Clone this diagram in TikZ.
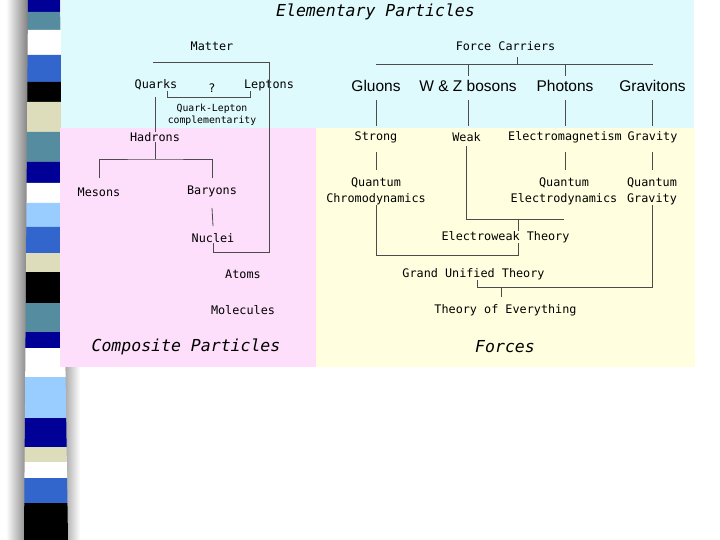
\documentclass[tikz,border=0pt]{standalone}
\usepackage{fontspec}
\setmainfont{Liberation Sans}
\newfontfamily\gothic[ItalicFont={DejaVu Sans Mono Oblique}]{DejaVu Sans Mono}
\definecolor{panelcyan}{RGB}{222,250,252}
\definecolor{panelpink}{RGB}{253,223,252}
\definecolor{panelyellow}{RGB}{255,255,224}
\definecolor{stripenavy}{RGB}{0,0,150}
\definecolor{stripeteal}{RGB}{85,140,160}
\definecolor{stripeblue}{RGB}{51,102,204}
\definecolor{stripebeige}{RGB}{221,221,187}
\definecolor{stripesky}{RGB}{153,204,255}
\begin{document}
\begin{tikzpicture}[x=1pt,y=-1pt,
    lbl/.style={font=\gothic\fontsize{11.8}{16}\selectfont, inner sep=0pt, align=center},
    small/.style={font=\gothic\fontsize{9.8}{12}\selectfont, inner sep=0pt, align=center},
    carrier/.style={font=\fontsize{15.5}{18}\selectfont, inner sep=0pt},
    heading/.style={font=\gothic\itshape\fontsize{16.5}{20}\selectfont, inner sep=0pt},
    conn/.style={draw=black!70, line width=0.8pt}]
        \useasboundingbox (0,0) rectangle (720,540);
        % striped bar on the left
        \shade[left color=white, right color=black!50] (6,0) rectangle (28,540);
        \shade[left color=black!40, right color=white] (62,367) rectangle (80,540);
        \foreach \ya/\yb/\c in {0/12/stripenavy, 12/30/stripeteal, 30/55/white, 55/82/stripeblue,
                82/102/black, 102/132/stripebeige, 132/162/stripeteal, 162/183/stripenavy,
                183/203/white, 203/227/stripesky, 227/253/stripeblue, 253/272/stripebeige,
                272/303/black, 303/332/stripeteal, 332/348/stripenavy, 348/377/white,
                377/418/stripesky, 418/447/stripenavy, 447/462/stripebeige, 462/478/white,
                478/503/stripeblue, 503/540/black}
            \fill[\c] ({28-4*\ya/540},\ya) -- ({60+8*\ya/540},\ya) -- ({60+8*\yb/540},\yb) -- ({28-4*\yb/540},\yb) -- cycle;
        % panels
        \fill[panelcyan] (61,0) rectangle (694,128);
        \fill[panelpink] (60,128) rectangle (316,367);
        \fill[panelyellow] (316,128) rectangle (695,367);

        \node[heading] (title) at (375.5,12) {Elementary Particles};
        \node[lbl] (matter) at (212,46) {Matter};
        \node[lbl] (carriers) at (505.5,46) {Force Carriers};
        \node[lbl] (quarks) at (156,85) {Quarks};
        \node[lbl] (unknown) at (212,88) {?};
        \node[lbl] (leptons) at (269,85) {Leptons};
        \node[small] (qlc) at (212,115) {Quark-Lepton\\complementarity};
        \node[carrier] (gluons) at (376,86) {Gluons};
        \node[carrier] (wz) at (468,86) {W \& Z bosons};
        \node[carrier] (photons) at (565,86) {Photons};
        \node[carrier] (gravitons) at (652.5,86) {Gravitons};

        \node[lbl] (hadrons) at (155,137) {Hadrons};
        \node[lbl] (mesons) at (99,192) {Mesons};
        \node[lbl] (baryons) at (212,191) {Baryons};
        \node[lbl] (nuclei) at (213,238) {Nuclei};
        \node[lbl] (atoms) at (243,274) {Atoms};
        \node[lbl] (molecules) at (243,310.5) {Molecules};
        \node[heading] (composite) at (186,346.5) {Composite Particles};

        \node[lbl] (strong) at (376,137) {Strong};
        \node[lbl] (weak) at (466.5,137) {Weak};
        \node[lbl] (em) at (565,137) {Electromagnetism};
        \node[lbl] (gravity) at (652.5,137) {Gravity};
        \node[lbl] (qcd) at (376,191) {Quantum\\Chromodynamics};
        \node[lbl] (qed) at (564,191) {Quantum\\Electrodynamics};
        \node[lbl] (qg) at (652,191) {Quantum\\Gravity};
        \node[lbl] (ew) at (505.5,237) {Electroweak Theory};
        \node[lbl] (gut) at (473.5,274) {Grand Unified Theory};
        \node[lbl] (toe) at (505.5,310.5) {Theory of Everything};
        \node[heading] (forces) at (505,346.5) {Forces};

        % matter side
        \coordinate (mbar) at (153,62);
        \coordinate (nbar) at (213,252);
        \draw[conn] (mbar) -- (mbar -| leptons) -- (leptons |- nbar) -- (nbar) -- (nuclei.south);
        \coordinate (qk) at (167,91);
        \coordinate (lp) at (250,91);
        \draw[conn] (qk) -- ++(0,6) -| (lp);
        \draw[conn] (hadrons |- 0,97) -- (hadrons.north);
        \coordinate (hbar) at (155,159);
        \draw[conn] (hadrons.south) -- (hbar);
        \draw[conn] (mesons |- 0,178) |- (hbar) -| (baryons |- 0,178);
        \draw[conn] (baryons |- 0,208) -- (nuclei |- 0,226);

        % force side
        \coordinate (fbar) at (517,64);
        \draw[conn] (fbar) -- ++(0,-7);
        \draw[conn] (gluons |- fbar) -- (gravitons |- fbar);
        \draw[conn] (wz |- fbar) -- ++(0,12);
        \draw[conn] (photons |- fbar) -- ++(0,12);
        \foreach \a in {gluons, wz, photons, gravitons}
            \draw[conn] (\a |- 0,100) -- (\a |- 0,126);
        \foreach \a in {strong, em, gravity}
            \draw[conn] (\a |- 0,152) -- (\a |- 0,170);
        \coordinate (wbar) at (518,219);
        \draw[conn] (weak |- 0,146) |- (qed |- wbar);
        \draw[conn] (wbar) -- (wbar |- ew.north);
        \draw[conn] (wbar |- ew.south) -- (wbar |- 0,255) -| (qcd.south);
        \coordinate (ubar) at (477,287);
        \draw[conn] (qg.south) |- (ubar) -- (ubar |- gut.south);
        \coordinate (tbar) at (501,287);
        \draw[conn] (tbar) -- ++(0,10);
\end{tikzpicture}
\end{document}
